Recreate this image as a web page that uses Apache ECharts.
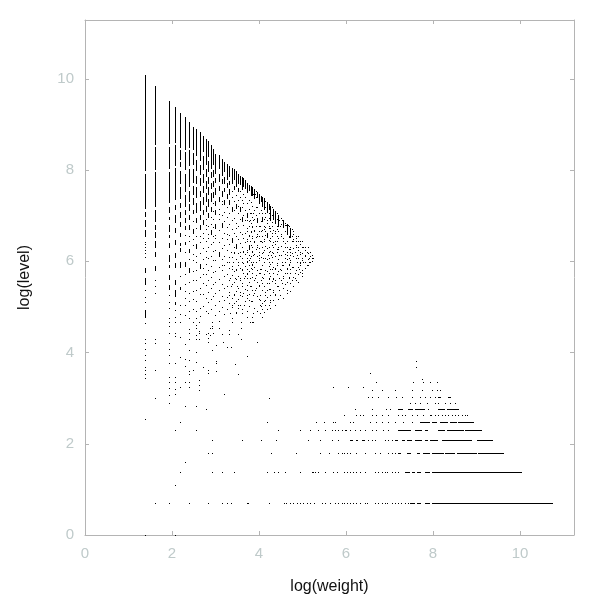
<!DOCTYPE html>
<html><head><meta charset="utf-8">
<style>html,body{margin:0;padding:0;background:#fff}#c{width:600px;height:600px}</style>
<script src="https://cdn.jsdelivr.net/npm/echarts@6/dist/echarts.min.js"></script>
</head><body><div id="c"></div>
<script>
// Vertical columns of the upper triangle: a number is one point, a pair is an unbroken run.
const colX = [1.39,1.61,1.94,2.07,2.19,2.30,2.40,2.48,2.56,2.64,2.71,2.77,2.83,2.89,2.94,2.99,3.09,3.14,3.20,3.26,3.31,
 3.38,3.43,3.47,3.52,3.56,3.61,3.64,3.68,3.72,3.77,3.81,3.84,3.89,3.92,3.95,4.00,4.04,4.07,4.11,4.14,4.18,4.22,4.25,4.29,4.32,4.37,4.41,4.44,4.50,4.55,4.60,4.64,4.68,4.71,4.75,4.78,4.84,4.90,4.95,4.99,5.06,5.13,5.18,5.22];
const colY = [
 [[10.09,7.98],[7.92,7.15],[7.08,6.97],[6.91,6.75],[6.69,6.53],6.43,6.38,6.32,6.25,6.18,6.10,[5.85,5.75],[5.64,5.48],5.37,5.22,5.11,[4.93,4.76],4.65,4.30,4.21,4.08,3.95,3.84,3.68,3.62,3.53,3.44,2.54,0],
 [[9.85,8.55],[8.50,8.0],[7.95,7.19],[7.12,6.86],[6.80,6.69],[6.64,6.51],[6.45,6.30],[6.20,6.10],[5.90,5.78],5.59,5.45,5.30,4.30,4.21,3.62,3.0],
 [[9.52,8.58],[8.50,8.02],[7.95,7.28],[7.19,7.06],[6.97,6.91],[6.80,6.64],[6.58,6.51],[6.40,6.29],[6.14,5.99],[5.92,5.85],[5.70,5.59],[5.48,5.37],5.26,5.11,4.98,4.76,4.67,4.58,4.43,4.21,4.08,3.95,3.77,3.46,3.36,3.07,2.89],
 [[9.39,8.60],[8.55,8.10],[8.05,7.35],[7.24,7.13],[7.02,6.84],[6.73,6.62],[6.47,6.36],[6.18,6.07],[5.96,5.85],[5.59,5.48],[5.37,5.22],[5.11,5.04],4.93,4.78,4.67,4.43,4.37,3.77,3.09,2.30,1.10,0],
 [[9.25,8.49],[8.44,8.22],[8.18,8.07],[7.98,7.70],[7.62,7.35],[7.28,7.17],[7.08,6.95],[6.86,6.75],[6.62,6.53],[6.40,6.33],[6.29,6.20],[5.99,5.85],5.68,[5.44,5.37],5.04,4.85],
 [[9.17,8.45],[8.40,8.0],[7.92,7.52],[7.46,7.20],[7.12,7.02],[6.95,6.84],[6.78,6.70],6.58,[6.42,6.35],6.20,[5.98,5.88],5.72,5.50,5.35,5.20,5.04,4.82],
 [[9.06,8.50],[8.45,8.10],[8.02,7.62],[7.55,7.30],[7.25,7.10],[7.02,6.92],[6.80,6.70],6.55,6.44,[6.28,6.20],6.05,[5.85,5.75],5.55,5.30,5.12,4.92,4.76],
 [[8.95,8.45],[8.38,8.12],[8.02,7.72],[7.65,7.45],[7.38,7.22],[7.12,7.04],6.88,[6.70,6.60],6.48,6.35,6.15,6.02,5.78,5.58,5.36,5.18,4.95],
 [[8.90,8.30],[8.22,7.98],[7.88,7.70],[7.62,7.38],[7.28,7.05],[6.95,6.85],6.72,6.55,[6.38,6.28],6.12,5.98,5.82,5.60,5.38,5.12,4.90,4.75],
 [[8.84,8.20],[8.12,7.90],[7.82,7.65],[7.55,7.42],[7.32,7.10],[7.02,6.92],[6.80,6.70],6.56,6.42,6.18,[5.95,5.85],5.65,5.42,5.28,4.98,4.80],
 [[8.75,8.40],[8.30,8.0],[7.92,7.72],[7.65,7.50],[7.40,7.22],[7.12,7.02],[6.90,6.78],6.62,6.50,6.30,6.05,5.85,5.72,5.52,5.28,5.02],
 [[8.68,8.12],[8.02,7.85],[7.76,7.58],[7.50,7.30],[7.22,7.08],6.92,6.80,6.70,6.45,6.22,6.10,5.95,5.72,5.48,5.20,4.92],
 [[8.64,8.28],[8.20,7.95],[7.85,7.70],[7.62,7.45],[7.36,7.18],[7.05,6.95],6.78,6.60,6.50,6.32,6.08,5.82,5.60,5.33,5.10,4.86],
 [[8.55,8.02],[7.95,7.82],[7.72,7.58],[7.50,7.30],[7.20,7.10],6.98,6.82,[6.68,6.58],6.38,6.12,5.90,5.65,5.42,5.18,4.95],
 [[8.46,8.10],[8.00,7.85],[7.75,7.62],[7.52,7.38],7.28,7.10,6.92,6.75,6.55,6.42,6.22,6.02,5.76,5.50,5.24],
 [[8.36,7.92],[7.82,7.70],[7.60,7.45],[7.32,7.22],[7.12,7.02],[6.82,6.72],6.58,6.50,6.25,6.02,5.78,5.55,5.30,5.05,4.82],
 [[8.33,8.02],[7.92,7.75],[7.66,7.54],[7.42,7.30],7.15,7.04,6.92,6.68,6.42,[6.20,6.10],5.88,5.62,5.38,5.12,4.90],
 [[8.25,7.88],[7.80,7.68],[7.55,7.42],7.32,7.25,7.02,[6.85,6.75],6.52,6.30,6.05,5.92,5.80,5.50,5.25,5.00],
 [[8.18,7.95],[7.85,7.70],[7.60,7.52],[7.35,7.25],7.08,6.88,6.62,6.35,6.12,5.92,5.68,5.42,5.15,4.85],
 [[8.14,7.80],[7.72,7.62],[7.48,7.38],7.20,6.98,6.75,6.60,6.48,6.25,5.98,5.72,5.45,5.22,4.95],
 [[8.10,7.85],[7.76,7.68],[7.58,7.45],[7.35,7.25],7.05,6.82,6.58,6.38,6.10,5.85,5.60,5.32,5.08],
 [[8.05,7.70],7.55,7.42,[7.20,7.10],6.90,6.70,[6.50,6.40],6.10,5.90,5.70,5.50,5.20,5.0,4.75],
 [[8.02,7.78],[7.66,7.58],7.32,7.12,6.95,6.62,6.32,6.18,5.78,5.55,5.28,5.08],
 [[7.98,7.62],7.45,[7.25,7.15],6.85,6.74,6.55,[6.38,6.28],6.05,5.82,5.62,5.35,5.12,4.88],
 [[7.92,7.70],[7.60,7.52],7.35,7.22,7.05,6.78,6.48,6.18,5.92,5.68,5.42,5.18,4.98],
 [[7.88,7.68],7.55,7.40,[7.20,7.10],6.92,6.65,6.40,6.12,5.85,5.58,5.32,5.05],
 [[7.84,7.55],7.35,7.18,[6.98,6.88],6.60,6.32,6.08,5.80,5.52,5.25,4.95],
 [[7.82,7.62],7.48,7.28,7.02,6.80,6.52,6.22,5.96,5.74,5.30],
 [[7.78,7.58],7.42,7.12,6.90,6.62,6.42,6.15,5.90,5.68,5.40,5.12],
 [[7.72,7.50],7.28,[7.05,6.95],6.72,6.48,6.25,6.0,5.72,5.48,5.20,4.92],
 [[7.68,7.55],7.35,7.15,6.88,6.58,[6.35,6.25],6.02,5.78,5.55,5.28,5.02],
 [[7.66,7.45],7.30,7.06,6.84,6.64,6.36,6.12,5.86,5.46,5.14],
 [[7.62,7.42],7.22,6.98,6.75,6.50,6.22,5.95,5.65,5.38,5.12],
 [[7.58,7.35],7.12,6.92,6.68,6.42,6.15,5.88,5.60,5.30,4.98],
 [7.54,7.40,7.18,7.02,6.78,6.54,6.28,5.98,5.70,5.42],
 [[7.52,7.38],7.18,[6.95,6.85],6.60,6.35,6.12,5.82,5.55,5.25,4.90],
 [[7.48,7.25],7.05,6.78,6.55,6.30,6.02,5.75,5.48,5.18],
 [[7.44,7.30],7.12,6.88,6.66,6.44,6.10,5.84,5.58,5.02],
 [[7.42,7.20],[6.98,6.88],6.68,6.42,6.18,5.92,5.65,5.38,5.08],
 [[7.38,7.12],6.92,6.70,6.48,6.25,5.98,5.72,5.45,5.12,4.88],
 [7.32,7.18,6.98,6.76,6.58,6.34,6.08,5.80,5.32],
 [[7.30,7.05],6.85,[6.62,6.52],6.30,6.05,5.78,5.52,5.22],
 [[7.26,7.12],6.94,6.74,6.46,6.20,5.90,5.62,5.40],
 [[7.22,6.92],6.72,6.50,6.22,5.95,5.68,5.40,5.10,4.98],
 [7.18,7.02,6.86,6.62,6.36,6.10,5.84,5.56],
 [[7.15,6.90],6.68,6.42,6.18,5.88,5.62,5.32],
 [[7.10,6.82],6.62,6.38,6.12,5.85,5.58,5.28,5.05],
 [7.06,6.92,6.70,6.44,6.26,5.96,5.72,5.46],
 [[7.02,6.75],6.52,6.28,6.05,5.78,5.45,5.18],
 [6.96,6.82,6.60,6.34,6.14,5.82,5.60],
 [[6.90,6.72],6.50,6.22,5.92,5.68,5.42,5.20],
 [6.84,6.66,6.40,6.16,5.98,5.74,5.50],
 [[6.82,6.58],6.32,6.05,5.85,5.55,5.30],
 [6.78,6.54,6.26,5.94,5.66],
 [[6.72,6.50],6.28,6.02,5.75,5.52,5.35],
 [6.70,6.44,6.18,5.88,5.60],
 [6.60,6.48,6.30,6.12,5.88,5.65,5.45],
 [6.52,6.36,6.08,5.80,5.58],
 [6.45,6.25,6.08,5.88,5.72,5.55],
 [6.38,6.16,5.96,5.76],
 [6.32,6.18,6.02,5.82,5.68],
 [6.25,6.12,5.98,5.85],
 [6.18,6.05,5.92],
 [6.12,5.98],
 [6.08,6.0]
];
// Sparse points left of x = 4.5 below the triangle, as [x, y].
const sparse = [[2.19,4.68],[2.49,4.66],[2.56,4.61],[2.63,4.66],[2.93,4.68],[2.93,4.59],[3.09,4.70],[3.38,4.66],[3.59,4.66],[3.80,4.66],[3.86,4.66],
 [2.40,4.51],[2.56,4.53],[2.63,4.48],[2.93,4.53],[2.88,4.53],[3.09,4.53],[3.32,4.50],[3.59,4.53],
 [2.40,4.42],[2.63,4.42],[2.56,4.39],[2.77,4.41],[2.83,4.42],[2.88,4.39],[2.95,4.42],[3.14,4.40],[3.32,4.41],[3.52,4.41],
 [2.19,4.35],[2.40,4.30],[2.56,4.30],[2.63,4.30],[2.83,4.31],[2.83,4.24],[3.18,4.24],[3.96,4.24],[3.59,4.30],
 [2.30,4.19],[3.0,4.17],[3.26,4.13],[3.36,4.12],[2.93,4.06],[2.40,4.06],[2.56,4.01],[2.19,3.90],[2.30,3.85],[3.72,3.93],
 [2.40,3.84],[2.56,3.80],[3.0,3.82],[3.0,3.76],[2.71,3.69],[3.45,3.75],[2.30,3.71],[2.40,3.60],[2.49,3.62],[2.83,3.62],[3.0,3.60],[2.83,3.56],[2.40,3.53],[3.52,3.53],
 [2.07,3.46],[2.63,3.40],[2.40,3.36],[2.30,3.35],[2.07,3.35],[2.63,3.29],[2.19,3.24],[2.40,3.24],[1.94,3.22],[2.63,3.18],[2.07,3.19],
 [2.07,3.09],[3.20,3.09],[4.23,3.0],[2.30,2.83],[2.56,2.83],[2.77,2.76],[1.94,2.89],[2.19,2.48],[4.18,2.48],[2.56,2.30],[4.44,2.30],
 [3.61,2.08],[4.05,2.08],[4.39,2.08],[2.92,2.08],[2.30,1.59],[2.83,1.80],[2.92,1.80],[4.28,1.80],[2.07,0]];
// Horizontal rows: the lower-right cluster, then further points read row by row in the triangle.
const rowY = [0.70,1.38,1.80,2.08,2.30,2.48,2.63,2.76,2.89,3.03,3.18,3.25,3.35,3.42,3.55,3.68,3.81,7.48,6.80,
 7.05,6.91,6.78,6.66,6.55,6.44,6.32,6.21,6.14,6.07,5.99,5.92,5.83,5.74,5.63,5.52,5.37,5.26,5.15,5.04,4.95,4.86,4.79,4.68,5.46];
const rowX = [
 [1.61,1.94,2.40,2.83,3.15,3.26,3.36,3.72,3.75,4.23,4.57,4.62,4.71,4.78,4.87,4.94,5.01,5.10,5.17,5.26,5.45,5.52,5.63,5.75,5.82,5.90,5.95,6.02,6.09,6.15,6.23,6.32,6.44,6.49,6.67,6.74,6.82,6.90,6.95,7.05,7.13,7.20,7.26,7.36,7.43,[7.47,7.59],[7.64,7.74],[7.82,7.93],[7.97,10.74]],
 [2.19,2.92,3.15,3.43,4.18,4.35,4.44,4.60,4.94,[5.22,5.26],5.29,5.36,5.52,5.71,5.79,5.95,6.02,6.08,6.15,6.23,6.32,6.44,6.67,6.74,6.82,6.90,6.95,7.05,7.13,7.20,[7.36,7.47],[7.51,7.59],[7.64,7.74],[7.82,7.93],[7.97,10.05]],
 [4.85,5.40,5.60,5.82,5.90,5.95,6.02,6.08,6.23,6.44,6.67,6.78,6.97,7.05,7.13,[7.20,7.26],[7.41,7.51],[7.62,7.70],[7.78,7.93],[7.97,8.24],[8.28,8.50],[8.54,9.0],[9.04,9.63]],
 [5.13,5.40,5.67,5.82,[6.09,6.17],[6.23,6.28],[6.36,6.44],6.51,6.59,6.67,6.90,6.97,7.05,[7.13,7.20],[7.28,7.36],[7.39,7.51],[7.59,7.74],[7.82,7.89],[7.93,8.12],[8.20,8.89],[9.0,9.36]],
 [4.94,5.17,5.36,5.52,5.67,5.75,5.82,5.90,[5.98,6.02],6.09,6.21,6.32,6.44,6.59,6.70,6.86,6.97,[7.20,7.51],[7.59,7.74],[7.82,7.89],[8.12,8.27],[8.31,8.70],[8.73,9.13]],
 [5.30,5.50,5.71,5.75,6.09,6.17,6.55,6.70,6.82,6.97,7.13,7.32,7.51,[7.70,7.93],[7.97,8.08],[8.16,8.35],[8.39,8.54],[8.58,8.94]],
 [5.95,6.23,6.32,6.40,6.59,6.70,6.82,6.97,7.20,7.28,7.36,7.51,7.62,7.78,[7.93,7.97],8.05,8.12,8.20,8.28,8.35,8.43,8.50,8.58,8.66,8.74,8.79],
 [6.21,6.59,6.93,7.01,[7.20,7.32],[7.43,7.55],[7.59,7.82],7.89,[8.12,8.27],[8.31,8.58]],
 [7.47,7.59,7.70,7.85,8.05,8.12,8.27,8.39,8.50],
 [6.51,6.59,6.74,6.97,7.16,7.28,7.51,7.70,7.82,7.93,8.05,[8.12,8.20],[8.35,8.43]],
 [6.59,6.82,7.13,7.51,7.74,7.97,8.08,8.16],
 [5.71,6.05,6.40],
 [6.70,7.55,7.78,7.93,8.08],
 [7.74],
 [6.55],
 [7.61],
 [7.61],
 [[3.82,3.93]],
 [[4.60,4.70]],
 [3.72,3.79,3.87,3.99,4.06,4.14,4.23,4.33],
 [3.72,3.79,3.87,3.95,4.06,4.18,4.25,4.37,4.45,4.52],
 [3.76,3.84,3.92,4.03,4.11,4.22,4.29,4.41,4.48,4.55,4.64],
 [3.72,3.81,3.89,4.0,4.14,4.25,4.37,4.44,4.60,4.71,4.78],
 [3.76,3.84,3.95,4.07,4.18,4.29,4.41,4.50,4.68,4.75,4.84,4.90],
 [3.72,3.79,3.89,4.03,4.11,4.25,4.37,4.55,4.64,4.78,4.84,4.95,4.99],
 [3.77,3.84,3.95,4.07,4.22,4.32,4.44,4.60,4.71,4.84,4.90,5.02,5.06,5.13],
 [3.35,3.43,3.56,3.64,3.72,3.83,3.99,4.10,4.22,4.29,4.41,4.64,4.71,4.83,4.94,5.10,5.17],
 [3.76,3.87,4.0,4.2,4.28,4.45,4.64,4.71,4.87,5.06,5.21],
 [3.72,3.79,3.99,4.10,4.22,4.6,4.68,4.98,5.14,5.25],
 [3.31,3.41,3.52,3.61,3.72,3.82,3.87,4.22,4.29,4.52,4.71,4.87,4.94,5.02,5.14],
 [3.76,3.85,4.06,4.41,4.52,4.68,4.94,5.10],
 [3.38,3.47,3.60,3.72,3.83,4.03,4.25,4.37,4.48,4.64,4.71,4.91],
 [3.72,3.83,4.03,4.22,4.33,4.64,4.71,4.83,4.98],
 [3.33,3.45,3.56,3.66,3.72,3.79,3.91,4.10,4.22,4.33,4.45,4.56,4.68,4.83],
 [4.06,4.22,4.37,4.52],
 [3.72,3.91,4.06,4.18,4.33,4.45,4.64],
 [3.31,3.43,3.56,3.72,3.87,4.03,4.14,4.25,4.37,4.48],
 [3.76,4.03,4.14,4.25,4.33],
 [3.38,3.52,3.66,4.03,4.14,4.22],
 [4.06,4.18],
 [3.33,3.47,3.60,3.87,4.03],
 [3.72,3.83,4.06],
 [3.83],
 [3.35,3.50,3.62,3.79,3.99]
];
const xTicks = [0,2,4,6,8,10];
const yTicks = [0,2,4,6,8,10];

const marks = [];
colX.forEach((x,i)=>colY[i].forEach(e=>{
  if (Array.isArray(e)) marks.push([x,e[0],x,e[1]]); else marks.push([x,e,x,e]);
}));
sparse.forEach(p=>marks.push([p[0],p[1],p[0],p[1]]));
rowY.forEach((y,i)=>rowX[i].forEach(e=>{
  if (Array.isArray(e)) marks.push([e[0],y,e[1],y]); else marks.push([e,y,e,y]);
}));

const tickCol = '#bfcaca', lineCol = '#b4b4b4';
const font = '"Liberation Sans", Arial, sans-serif';
const shared = {min:0, interval:xTicks[1]-xTicks[0], splitLine:{show:false},
  axisLine:{show:true,onZero:false,lineStyle:{color:lineCol,width:1}},
  axisTick:{show:true,inside:true,length:4,lineStyle:{color:lineCol}},
  axisLabel:{color:tickCol,fontSize:15,fontFamily:font,showMaxLabel:false,margin:11}};
const nameStyle = {color:'#111',fontSize:16,fontFamily:font};
const chart = echarts.init(document.getElementById('c'),null,{renderer:'canvas'});
chart.setOption({
  animation:false, backgroundColor:'#fff',
  grid:{left:85,right:26,top:20,bottom:65,containLabel:false},
  xAxis:[
   Object.assign({},shared,{type:'value',max:11.24,position:'bottom',name:'log(weight)',nameLocation:'middle',nameGap:44,nameTextStyle:nameStyle}),
   Object.assign({},shared,{type:'value',max:11.24,position:'top',axisLabel:{show:false}})
  ],
  yAxis:[
   Object.assign({},shared,{type:'value',max:11.29,position:'left',name:'log(level)',nameLocation:'middle',nameGap:52,nameTextStyle:nameStyle}),
   Object.assign({},shared,{type:'value',max:11.29,position:'right',axisLabel:{show:false}})
  ],
  series:[{
    type:'custom', coordinateSystem:'cartesian2d', data:marks, encode:{x:[0,2],y:[1,3]},
    renderItem:(params,api)=>{
      const a=api.coord([api.value(0),api.value(1)]), b=api.coord([api.value(2),api.value(3)]);
      const x=Math.round(Math.min(a[0],b[0])), y=Math.round(Math.min(a[1],b[1]));
      return {type:'rect',shape:{x:x,y:y,
        width:Math.max(1,Math.round(Math.abs(a[0]-b[0]))),
        height:Math.max(1,Math.round(Math.abs(a[1]-b[1])))},
        style:{fill:'#000'}};
    }
  }]
});
</script></body></html>
